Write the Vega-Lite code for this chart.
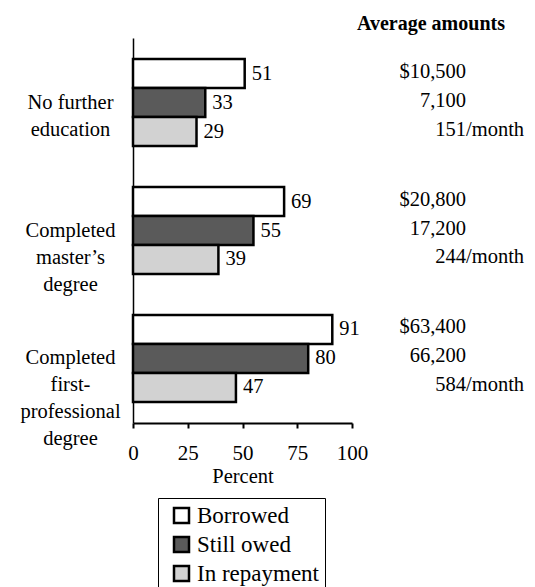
{
  "$schema": "https://vega.github.io/schema/vega-lite/v6.json",
  "padding": {"left": 19, "top": 14, "right": 5, "bottom": 5},
  "bounds": "flush",
  "config": {
    "font": "Liberation Serif",
    "view": {"stroke": null},
    "concat": {"spacing": 39}
  },
  "data": {
    "values": [
      {"group": "No further|education", "series": "Borrowed", "percent": 51, "amount": "$10,500", "suffix": ""},
      {"group": "No further|education", "series": "Still owed", "percent": 33, "amount": "7,100", "suffix": ""},
      {"group": "No further|education", "series": "In repayment", "percent": 29, "amount": "151", "suffix": "/month"},
      {"group": "Completed|master’s|degree", "series": "Borrowed", "percent": 69, "amount": "$20,800", "suffix": ""},
      {"group": "Completed|master’s|degree", "series": "Still owed", "percent": 55, "amount": "17,200", "suffix": ""},
      {"group": "Completed|master’s|degree", "series": "In repayment", "percent": 39, "amount": "244", "suffix": "/month"},
      {"group": "Completed|first-|professional|degree", "series": "Borrowed", "percent": 91, "amount": "$63,400", "suffix": ""},
      {"group": "Completed|first-|professional|degree", "series": "Still owed", "percent": 80, "amount": "66,200", "suffix": ""},
      {"group": "Completed|first-|professional|degree", "series": "In repayment", "percent": 47, "amount": "584", "suffix": "/month"}
    ]
  },
  "hconcat": [
    {
      "width": 219,
      "height": 385,
      "encoding": {
        "y": {
          "field": "group",
          "type": "nominal",
          "sort": ["No further|education", "Completed|master’s|degree", "Completed|first-|professional|degree"],
          "scale": {"paddingInner": 0.32, "paddingOuter": 0.165},
          "axis": {
            "title": null,
            "ticks": false,
            "tickSize": 0,
            "labelExpr": "split(datum.label, '|')",
            "labelAlign": "center",
            "labelBaseline": "middle",
            "labelPadding": 63,
            "labelLineHeight": 27,
            "labelFontSize": 20.5,
            "labelColor": "black",
            "labelLimit": 0,
            "domainColor": "black",
            "domainWidth": 1.5
          }
        },
        "yOffset": {"field": "series", "type": "nominal", "sort": ["Borrowed", "Still owed", "In repayment"]}
      },
      "layer": [
        {
          "mark": {"type": "bar", "stroke": "black", "strokeWidth": 2.5},
          "encoding": {
            "x": {
              "field": "percent",
              "type": "quantitative",
              "scale": {"domain": [0, 100]},
              "axis": {
                "values": [0, 25, 50, 75, 100],
                "title": "Percent",
                "grid": false,
                "labelFlush": false,
                "tickSize": 5,
                "tickWidth": 2,
                "tickColor": "black",
                "domainColor": "black",
                "domainWidth": 2,
                "labelFontSize": 21,
                "labelColor": "black",
                "labelPadding": 14,
                "titleFontSize": 20.5,
                "titleFontWeight": "normal",
                "titleColor": "black",
                "titlePadding": 3
              }
            },
            "fill": {
              "field": "series",
              "type": "nominal",
              "sort": ["Borrowed", "Still owed", "In repayment"],
              "scale": {"domain": ["Borrowed", "Still owed", "In repayment"], "range": ["#ffffff", "#5a5a5a", "#d2d2d2"]},
              "legend": {
                "title": null,
                "orient": "none",
                "legendX": 25,
                "legendY": 460,
                "direction": "vertical",
                "symbolType": "square",
                "symbolSize": 225,
                "symbolStrokeColor": "black",
                "symbolStrokeWidth": 2.5,
                "symbolOffset": 6,
                "labelFontSize": 23,
                "labelColor": "black",
                "labelOffset": 4,
                "rowPadding": 4,
                "padding": 6,
                "strokeColor": "black",
                "fillColor": "white"
              }
            }
          }
        },
        {
          "mark": {"type": "text", "align": "left", "baseline": "middle", "dx": 7, "fontSize": 20.5, "color": "black"},
          "encoding": {
            "x": {"field": "percent", "type": "quantitative"},
            "text": {"field": "percent", "type": "quantitative"}
          }
        }
      ]
    },
    {
      "width": 150,
      "height": 385,
      "title": {"text": "Average amounts", "fontSize": 20, "fontWeight": "bold", "anchor": "middle", "dx": -35, "offset": 4, "color": "black"},
      "encoding": {
        "y": {
          "field": "group",
          "type": "nominal",
          "sort": ["No further|education", "Completed|master’s|degree", "Completed|first-|professional|degree"],
          "scale": {"paddingInner": 0.32, "paddingOuter": 0.165},
          "axis": null
        },
        "yOffset": {"field": "series", "type": "nominal", "sort": ["Borrowed", "Still owed", "In repayment"]}
      },
      "layer": [
        {
          "mark": {"type": "text", "align": "right", "baseline": "middle", "dy": -2, "fontSize": 20.5, "color": "black"},
          "encoding": {"text": {"field": "amount", "type": "nominal"}}
        },
        {
          "mark": {"type": "text", "align": "left", "baseline": "middle", "dy": -2, "fontSize": 20.5, "color": "black"},
          "encoding": {"text": {"field": "suffix", "type": "nominal"}}
        }
      ]
    }
  ]
}
